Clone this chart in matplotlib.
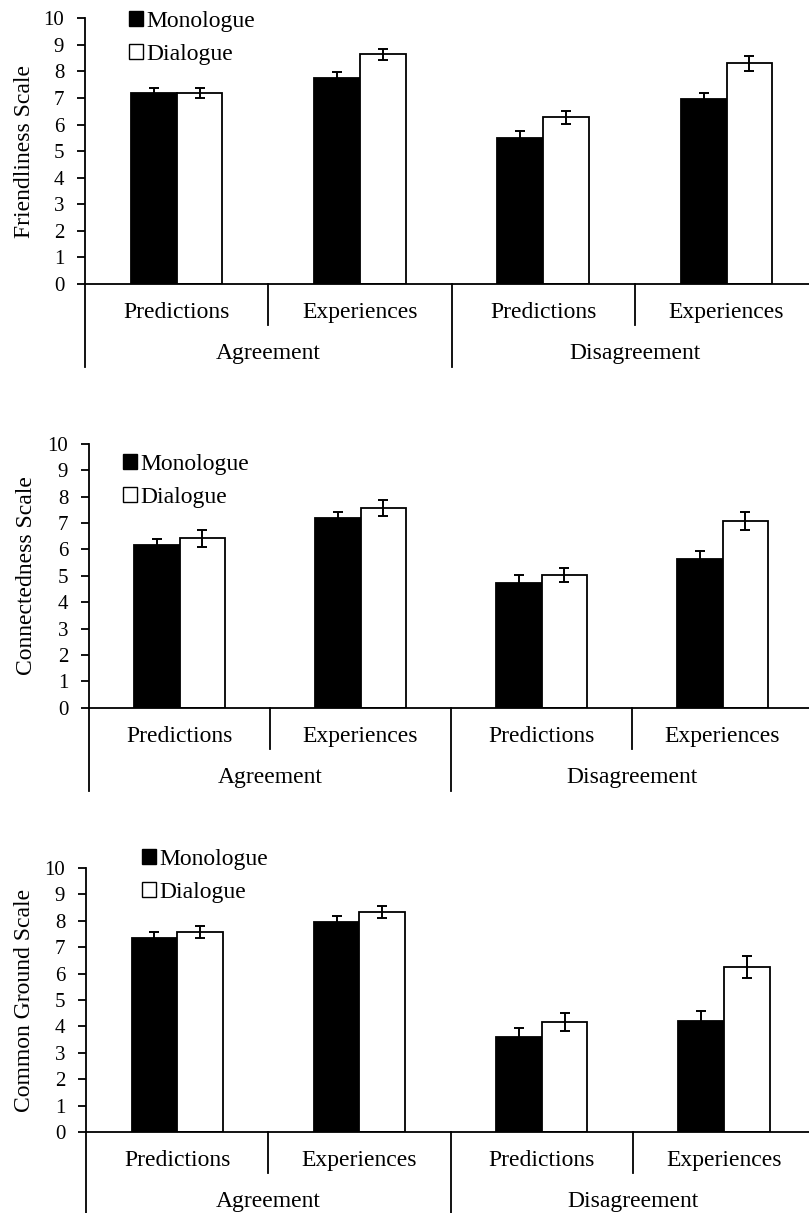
import numpy as np
import matplotlib
matplotlib.use("Agg")
import matplotlib.pyplot as plt
from matplotlib.patches import Patch
from matplotlib.transforms import blended_transform_factory

plt.rcParams["font.family"] = "Liberation Serif"

# ---- Data ----
categories = ["Predictions", "Experiences", "Predictions", "Experiences"]
groups = ["Agreement", "Disagreement"]
series = ["Monologue", "Dialogue"]

friend_mono = [7.20, 7.77, 5.49, 6.95]
friend_mono_err = [0.19, 0.21, 0.26, 0.25]
friend_dia = [7.19, 8.65, 6.28, 8.30]
friend_dia_err = [0.19, 0.21, 0.24, 0.29]

conn_mono = [6.17, 7.21, 4.72, 5.65]
conn_mono_err = [0.24, 0.23, 0.32, 0.30]
conn_dia = [6.42, 7.57, 5.03, 7.08]
conn_dia_err = [0.31, 0.30, 0.28, 0.33]

cg_mono = [7.33, 7.94, 3.59, 4.22]
cg_mono_err = [0.25, 0.24, 0.34, 0.38]
cg_dia = [7.56, 8.34, 4.17, 6.24]
cg_dia_err = [0.22, 0.23, 0.33, 0.42]

ylabels = ["Friendliness Scale", "Connectedness Scale", "Common Ground Scale"]

W, H = 809, 1213
# (left px, top px, bottom px, category width px, legend x frac, legend y frac, ylabel x px)
layout = [
    (85.0, 18.3, 284.0, 183.3, 0.060, 1.028, 24),
    (89.0, 444.0, 707.7, 181.0, 0.047, 0.962, 27),
    (86.0, 867.7, 1132.3, 182.3, 0.077, 1.072, 25),
]
panels = [
    (friend_mono, friend_mono_err, friend_dia, friend_dia_err),
    (conn_mono, conn_mono_err, conn_dia, conn_dia_err),
    (cg_mono, cg_mono_err, cg_dia, cg_dia_err),
]

fig = plt.figure(figsize=(W / 100, H / 100), dpi=100)
x = np.arange(len(categories))
bw = 0.25

for (mono, mono_e, dia, dia_e), lay, ylab in zip(panels, layout, ylabels):
    lpx, tpx, bpx, cw, lgx, lgy, ylx = lay
    hpx = bpx - tpx
    ax = fig.add_axes([lpx / W, 1 - bpx / H, 4 * cw / W, hpx / H])
    ax.bar(x - bw / 2, mono, bw, color="black", edgecolor="black", linewidth=1.3)
    ax.bar(x + bw / 2, dia, bw, color="white", edgecolor="black", linewidth=1.3)
    ax.errorbar(x - bw / 2, mono, yerr=mono_e, fmt="none", ecolor="black",
                elinewidth=1.4, capsize=3.5, capthick=1.4)
    ax.errorbar(x + bw / 2, dia, yerr=dia_e, fmt="none", ecolor="black",
                elinewidth=1.4, capsize=3.5, capthick=1.4)

    ax.set_xlim(-0.5, 3.5)
    ax.set_ylim(0, 10)
    ax.set_yticks(range(0, 11))
    ax.tick_params(axis="y", labelsize=15, length=6, width=1.3, pad=9)
    ax.set_xticks([])
    for s in ["top", "right"]:
        ax.spines[s].set_visible(False)
    ax.spines["left"].set_linewidth(1.3)
    ax.spines["bottom"].set_linewidth(1.3)

    # category dividers below the axis
    tr = blended_transform_factory(ax.transData, ax.transAxes)
    for xd in [-0.5, 1.5, 3.5]:
        ax.plot([xd, xd], [0, -83 / hpx], color="black", lw=1.3, transform=tr, clip_on=False)
    for xd in [0.5, 2.5]:
        ax.plot([xd, xd], [0, -41 / hpx], color="black", lw=1.3, transform=tr, clip_on=False)

    for xi, c in zip(x, categories):
        ax.text(xi, -34 / hpx, c, transform=tr, ha="center", va="baseline", fontsize=17)
    for gi, g in enumerate(groups):
        ax.text(2 * gi + 0.5, -75 / hpx, g, transform=tr, ha="center", va="baseline", fontsize=17)

    ax.text((ylx - lpx) / (4 * cw), 0.5, ylab, transform=ax.transAxes, rotation=90,
            ha="center", va="center", fontsize=17)

    handles = [Patch(facecolor="black", edgecolor="black", linewidth=1.0),
               Patch(facecolor="white", edgecolor="black", linewidth=1.0)]
    ax.legend(handles, series, loc="upper left", bbox_to_anchor=(lgx, lgy),
              frameon=False, fontsize=17, handlelength=0.6, handleheight=0.6,
              handletextpad=0.15, labelspacing=0.52, borderpad=0, borderaxespad=0)

fig.savefig("out.png", dpi=100)
